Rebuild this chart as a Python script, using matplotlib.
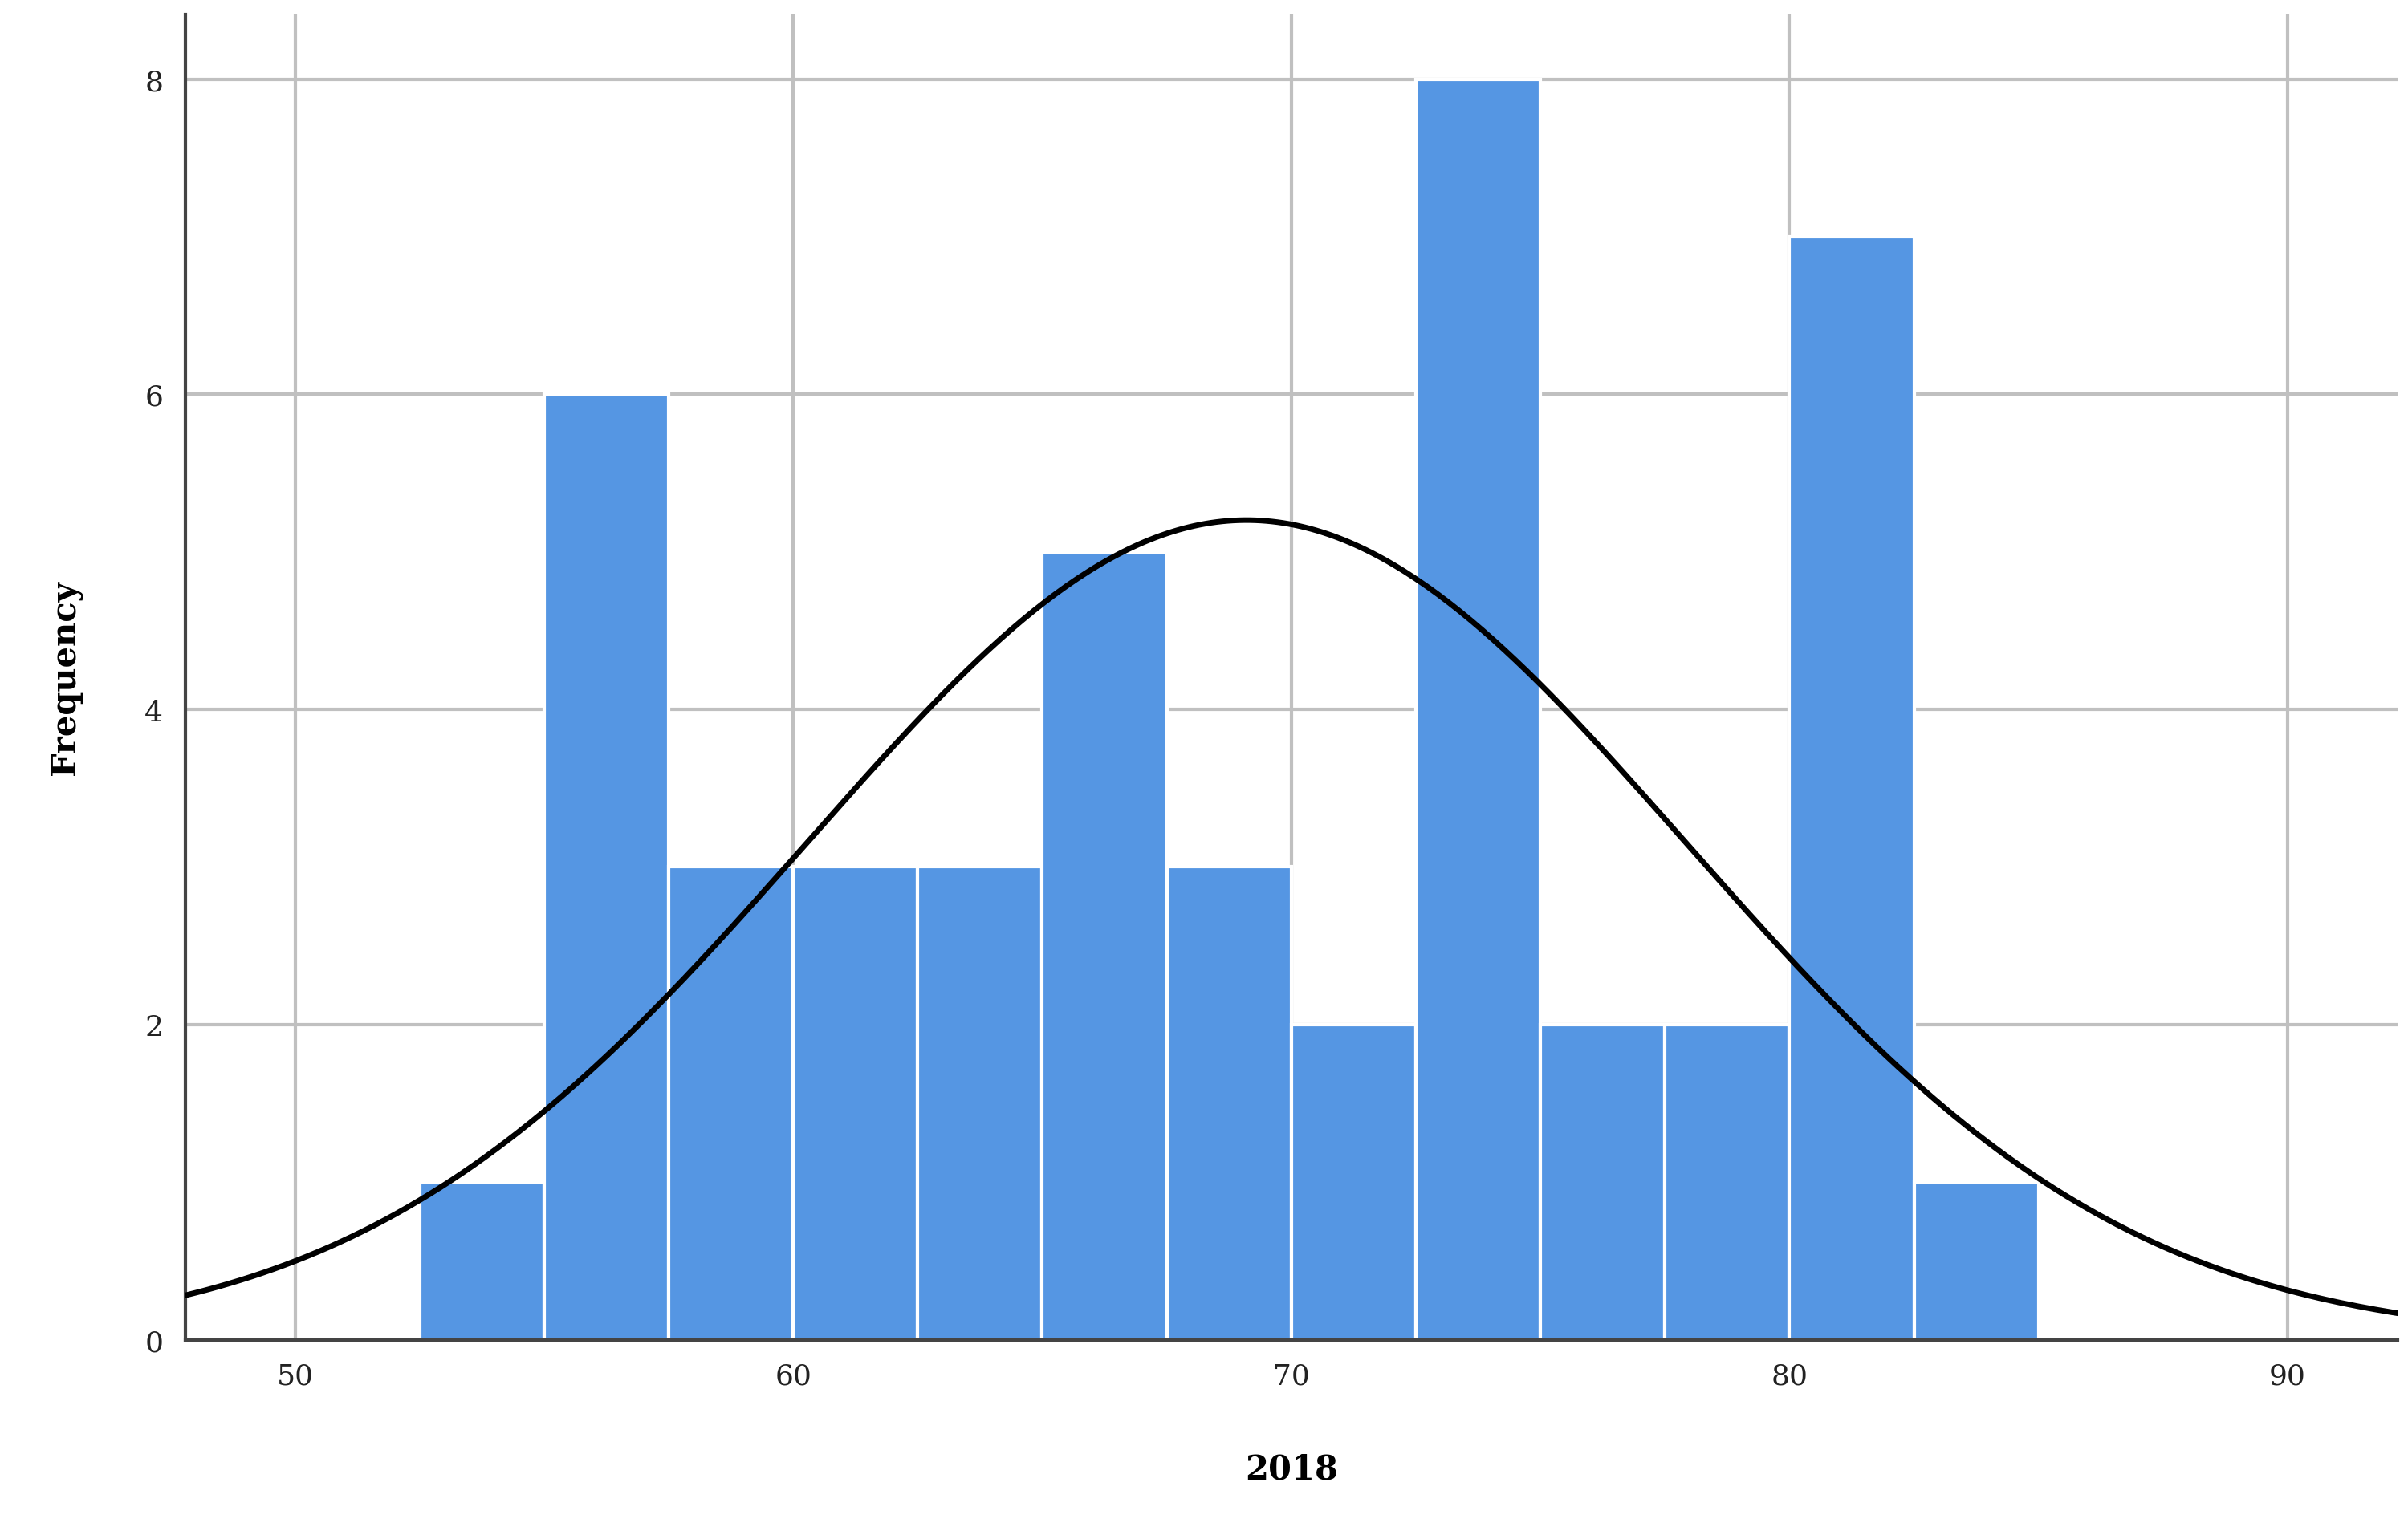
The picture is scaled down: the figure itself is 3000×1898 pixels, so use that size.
import numpy as np
import matplotlib
matplotlib.use("Agg")
import matplotlib.pyplot as plt

bin_edges = [52.5, 55, 57.5, 60, 62.5, 65, 67.5, 70, 72.5, 75, 77.5, 80, 82.5, 85]
counts = [1, 6, 3, 3, 3, 5, 3, 2, 8, 2, 2, 7, 1]
curve_mean = 69.1
curve_sd = 8.82
xticks = [50, 60, 70, 80, 90]
yticks = [0, 2, 4, 6, 8]

plt.rcParams['font.family'] = ['DejaVu Serif']
fig = plt.figure(figsize=(15, 9.495), dpi=200)
ax = fig.add_axes([0.077, 0.1203, 0.9185, 0.8696])

ax.grid(True, color='#c0c0c0', linewidth=1.5, zorder=0)
ax.set_axisbelow(True)
left = np.array(bin_edges[:-1]); w = np.diff(bin_edges)
ax.bar(left, counts, width=w, align='edge', color='#5596E3', edgecolor='white', linewidth=1.5, zorder=2)

n = sum(counts)
xs = np.linspace(47.8, 92.2, 400)
ys = n * 2.5 / (curve_sd * np.sqrt(2 * np.pi)) * np.exp(-0.5 * ((xs - curve_mean) / curve_sd) ** 2)
ax.plot(xs, ys, color='black', linewidth=2.5, zorder=3)

ax.set_xlim(47.8, 92.2)
ax.set_ylim(0, 8.41)
ax.set_xticks(xticks); ax.set_yticks(yticks)
ax.tick_params(labelsize=13, length=0, pad=10, colors='#222222')
for s in ['top', 'right']:
    ax.spines[s].set_visible(False)
for s in ['left', 'bottom']:
    ax.spines[s].set_color('#444444'); ax.spines[s].set_linewidth(1.5)
ax.set_xlabel('2018', fontsize=15, fontweight='bold', labelpad=28)
ax.set_ylabel('Frequency', fontsize=15, fontweight='bold', labelpad=28)
fig.savefig('out.png', dpi=200)
